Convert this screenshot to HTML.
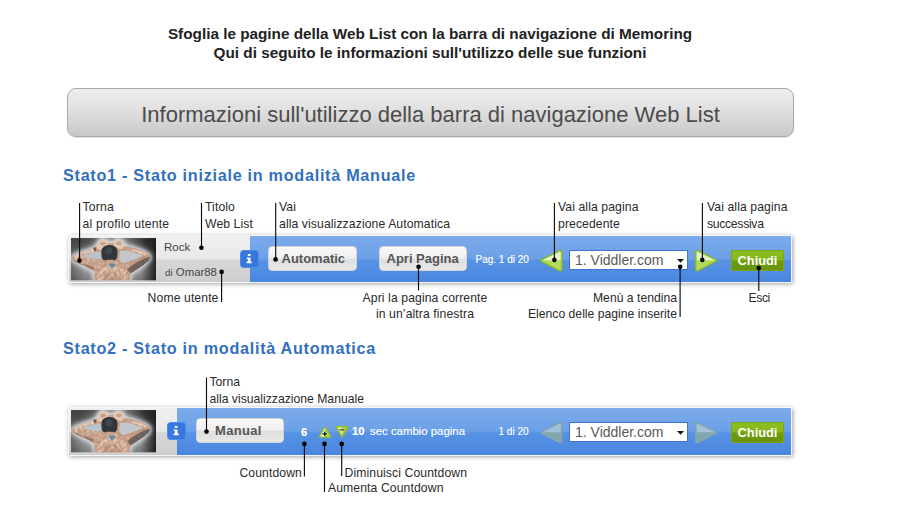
<!DOCTYPE html>
<html>
<head>
<meta charset="utf-8">
<style>
html,body{margin:0;padding:0;background:#fff;}
body{width:899px;height:516px;position:relative;overflow:hidden;font-family:"Liberation Sans",sans-serif;}
.abs{position:absolute;white-space:nowrap;}
.title{left:0;width:860px;text-align:center;font-weight:bold;font-size:15.3px;color:#222;line-height:19px;}
.hdr{left:67px;top:88px;width:725px;height:47px;border:1px solid #a9a9a9;border-radius:9px;
 background:linear-gradient(#eeeeee,#e2e2e2 40%,#c8c8c8);text-align:center;line-height:51px;font-size:22px;color:#4c4c4c;box-shadow:0 1px 1px rgba(0,0,0,.12);}
.h2{left:63px;font-weight:bold;font-size:16.2px;color:#3270bd;letter-spacing:0.72px;}
.lbl{font-size:12.2px;color:#2a2a2a;line-height:16.5px;letter-spacing:.1px;}
.c{text-align:center;}
.r{text-align:right;}
.bar{position:absolute;height:46px;box-shadow:0 0 0 1px rgba(246,248,252,.96),0.5px 0.5px 5px 1px rgba(0,0,0,.45);background:#ddd;}
.gray{position:absolute;left:0;top:0;bottom:0;background:linear-gradient(#f0f0f0,#e8e8e8 50%,#d7d7d7 52%,#cecece);}
.blue{position:absolute;top:0;bottom:0;right:0;background:linear-gradient(#7babeb,#6ca0e7 49%,#5792e4 53%,#4a86e0);}
.btn{position:absolute;height:25px;border-radius:4px;border:1px solid #d4d4d4;background:linear-gradient(#f8f8f8,#f0f0f0 48%,#dfdfdf 54%,#e7e7e7);
 font-weight:bold;font-size:13px;color:#555;line-height:24px;text-align:left;box-sizing:border-box;}
.info{position:absolute;width:19px;height:17.5px;border-radius:3.5px;background:#3878de;border:1px solid #4f8be8;box-sizing:border-box;}
.sel{position:absolute;height:20px;background:#fff;border:1px solid #3f73d2;box-sizing:border-box;font-size:14px;color:#5a5a5a;line-height:19px;padding-left:5px;}
.chiudi{position:absolute;width:53px;height:21px;background:linear-gradient(#8cbd22,#86b81a 47%,#6d9a0e 52%,#69940a);border:1px solid #7ea520;box-sizing:border-box;
 color:#fff;font-weight:bold;font-size:12.8px;line-height:19.5px;text-align:center;letter-spacing:0;}
.wt{position:absolute;color:#f4f8ff;font-size:10px;white-space:nowrap;text-shadow:0 0 .6px rgba(255,255,255,.7);}
svg{position:absolute;overflow:visible;}
</style>
</head>
<body>
<div class="abs title" style="top:24px;">Sfoglia le pagine della Web List con la barra di navigazione di Memoring</div>
<div class="abs title" style="top:43px;">Qui di seguito le informazioni sull'utilizzo delle sue funzioni</div>

<div class="abs hdr">Informazioni sull'utilizzo della barra di navigazione Web List</div>

<div class="abs h2" style="top:166px;">Stato1 - Stato iniziale in modalità Manuale</div>
<div class="abs h2" style="top:339px;">Stato2 - Stato in modalità Automatica</div>

<svg width="0" height="0">
 <defs>
  <radialGradient id="pg" cx="48%" cy="55%" r="62%"><stop offset="0" stop-color="#b8bcc0"/><stop offset=".6" stop-color="#969798"/><stop offset="1" stop-color="#6a6a6a"/></radialGradient>
  <linearGradient id="pg2" x1="0" x2="1" y1="0" y2="0"><stop offset="0" stop-color="#333" stop-opacity=".3"/><stop offset=".15" stop-color="#333" stop-opacity="0"/><stop offset=".82" stop-color="#222" stop-opacity="0"/><stop offset=".96" stop-color="#1a1a1a" stop-opacity=".7"/><stop offset="1" stop-color="#111" stop-opacity=".85"/></linearGradient>
  <radialGradient id="pg3" gradientUnits="userSpaceOnUse" cx="10" cy="2" r="26"><stop offset="0" stop-color="#3c3c3c" stop-opacity=".85"/><stop offset="1" stop-color="#3c3c3c" stop-opacity="0"/></radialGradient>
  <radialGradient id="pg4" gradientUnits="userSpaceOnUse" cx="76" cy="3" r="22"><stop offset="0" stop-color="#2c2c2c" stop-opacity=".9"/><stop offset="1" stop-color="#2c2c2c" stop-opacity="0"/></radialGradient>
  <filter id="bl" x="-10%" y="-10%" width="120%" height="120%"><feGaussianBlur stdDeviation="0.55"/></filter>
  <filter id="bl2" x="-20%" y="-20%" width="140%" height="140%"><feGaussianBlur stdDeviation="2"/></filter>
  <filter id="nz" x="0" y="0" width="100%" height="100%"><feTurbulence type="fractalNoise" baseFrequency="0.28 0.32" numOctaves="3" seed="7" result="t"/><feColorMatrix in="t" type="matrix" values="0 0 0 0 0.42  0 0 0 0 0.25  0 0 0 0 0.18  2.6 0 0 0 -1.05" result="c"/><feComposite in="c" in2="SourceGraphic" operator="in"/></filter>
  <filter id="nz2" x="0" y="0" width="100%" height="100%"><feTurbulence type="fractalNoise" baseFrequency="0.3 0.3" numOctaves="2" seed="11" result="t"/><feColorMatrix in="t" type="matrix" values="0 0 0 0 1  0 0 0 0 0.9  0 0 0 0 0.82  0 2.4 0 0 -1.0" result="c"/><feComposite in="c" in2="SourceGraphic" operator="in"/></filter>
  <clipPath id="pc"><rect width="85" height="42"/></clipPath>
  <g id="photo">
   <g clip-path="url(#pc)">
    <rect width="85" height="42" fill="url(#pg)"/>
    <rect width="85" height="42" fill="url(#pg3)"/><rect width="85" height="42" fill="url(#pg4)"/><rect width="85" height="42" fill="url(#pg2)"/>
    <path d="M0.5 20 L4 16.5 L14 13 L22 10.5 L26 8 L28 3 L31 0.8 L35 1.5 L37 5 L42 5 L43 4 L46 1 L50 1.5 L52 4 L53 8 L60 9 L70 12 L77 15.5 L79 18 L78 22 L72 27 L64 32 L59.5 35 L58.5 42 L24 42 L22.5 32 L14 28 L6 24.5 L1.5 22 Z" fill="#dfe6ee" stroke="#dfe6ee" stroke-width="3.5" stroke-linejoin="round" filter="url(#bl2)"/>
    <g filter="url(#bl)">
     <path d="M0.5 20 L4 16.5 L14 13 L22 10.5 L26 8 L28 3 L31 0.8 L35 1.5 L37 5 L42 5 L43 4 L46 1 L50 1.5 L52 4 L53 8 L60 9 L70 12 L77 15.5 L79 18 L78 22 L72 27 L64 32 L59.5 35 L58.5 42 L24 42 L22.5 32 L14 28 L6 24.5 L1.5 22 Z" fill="#c89f86"/>
     <path d="M25.5 8.5 L27 4 L29.5 1.2 L32 0.6 L34 2 L36.5 1.6 L37.4 5 L36.4 8.6 L31 11.4 L27 11.6Z M42.4 4.6 L44.6 1.4 L47.4 0.6 L49.6 2 L51.6 2.4 L52.6 5.4 L53.4 8.4 L50 11 L45 9.4 L42.6 7.4Z" fill="#e2c8b6"/>
     <path d="M28.4 5 L33 3.4 L35.4 5.6 L31 8Z M44.6 4.6 L49 3.2 L51 6 L46.6 7.4Z" fill="#c4a08a"/>
     <path d="M4 17 L14 13.4 L22 11 L24 13 L12 16.6 L5 19.5Z M56 10 L70 13 L76 16 L74 17.5 L60 12.5Z" fill="#e6cbb6"/>
     <path d="M27 21.5 L34 25 L45 25 L52 25.5 L59.5 35 L58.5 42 L24 42 L22.5 32 Z" fill="#c49a80"/>
     <path d="M30 30 L40 27 L52 30 L55 42 L27 42Z" fill="#d9b8a0" opacity=".7"/>
     <path d="M33 36 L38 33 L50 35 L50 42 L31 42Z" fill="#a97862" opacity=".55"/>
     <path d="M59.5 35 L64 32 L72 27 L78 22 L79 18.5 L74 20 L66 24 L60 28 L56 31Z" fill="#6f625c"/>
     <path d="M1.5 22 L6 24.5 L14 28 L22.5 32 L23 29 L14 25.5 L6 22.5Z" fill="#9a7866"/>
     <path d="M34 21 L44 21 L45 26 L33 26Z" fill="#cfa890"/>
     <path d="M22.5 22 L58 22 L59.5 35 L58.5 42 L24 42 L22.5 32Z M0.5 20 L22 10.5 L24 22 L14 28Z M53 8 L79 18 L64 32 L52 24Z" fill="#fff" filter="url(#nz)" opacity=".75"/>
     <path d="M22.5 22 L58 22 L59.5 35 L58.5 42 L24 42 L22.5 32Z M0.5 20 L22 10.5 L24 22 L14 28Z" fill="#fff" filter="url(#nz2)" opacity=".55"/>
     <path d="M12 17.5 L26 13.2 L30 14 L31 20 L27 21.2 L13 18.6Z" fill="#b9c3cd"/>
     <path d="M49 13 L56 12.2 L72 17.6 L63 21.5 L52 25 L48 21Z" fill="#c2c7cc"/>
     <path d="M59.5 35 L64 32 L72 27 L78 22 L79 18.5 L74 20 L66 24 L60 28 L56 31Z" fill="#6f625c" opacity=".8"/>
     <path d="M30.4 14 Q30.2 7.4 38.5 7 Q46.8 7.4 46.6 14 L46 19.5 Q44.5 22.4 42.5 22.2 L43 24.5 L35 24.5 L35.2 22.2 Q32 22.4 30.8 19.5Z" fill="#30363a"/>
     <path d="M35.4 21.6 L42.6 21.6 L43.6 25.4 L34.4 25.4Z" fill="#c8a28a"/>
     <ellipse cx="37.8" cy="12.8" rx="3.4" ry="3.6" fill="#3d494f"/>
     <path d="M37.6 25.6 L39.6 24.8 L41 25.6 L42.6 24.8 L44.2 26 L43 28.4 L41 29.8 L39 28.4Z" fill="#5f879f" opacity=".9"/>
     <path d="M22 10 L24.5 9 L25.5 12.5 L23.4 13.4Z" fill="#7a5c4c"/>
    </g>
   </g>
  </g>
  <g id="larr">
   <path d="M2.2 11.7 L20.6 2.2 Q22.2 1.6 22.2 3.4 L22.2 20 Q22.2 21.8 20.6 21.2 Z" fill="#b4db58" stroke="#80b02c" stroke-width="2.6" stroke-linejoin="round"/>
   <path d="M2.2 11.7 L20.6 2.2 Q22.2 1.6 22.2 3.4 L22.2 20 Q22.2 21.8 20.6 21.2 Z" fill="#b4db58" stroke="#9ccb3c" stroke-width="1" stroke-linejoin="round"/>
   <path d="M3.6 11.2 L20.4 2.9 Q21.6 2.5 21.6 3.6 L21.6 11.2 Z" fill="#e8f3cc"/>
  </g>
  <g id="larrd">
   <path d="M2.2 11.7 L20.6 2.2 Q22.2 1.6 22.2 3.4 L22.2 20 Q22.2 21.8 20.6 21.2 Z" fill="#85a9a6" stroke="#7c9fae" stroke-width="2.4" stroke-linejoin="round"/>
   <path d="M2.2 11.7 L20.6 2.2 Q22.2 1.6 22.2 3.4 L22.2 20 Q22.2 21.8 20.6 21.2 Z" fill="#85a9a6" stroke="#8cafb0" stroke-width="1" stroke-linejoin="round"/>
   <path d="M3.6 11.2 L20.4 2.9 Q21.6 2.5 21.6 3.6 L21.6 11.2 Z" fill="#a9c5d6"/>
  </g>
  <g id="info">
   <rect x="7.8" y="4" width="2.7" height="1.9" fill="#fff"/>
   <path d="M6.8 7.4 H10.5 V11.5 H11.7 V13.2 H6.6 V11.5 H7.9 V8.9 H6.8Z" fill="#fff"/>
  </g>
 </defs>
</svg>

<!-- BAR 1 -->
<div class="bar" id="bar1" style="left:69px;top:236px;width:722px;">
  <div class="gray" style="width:181px;"></div>
  <div class="blue" style="left:181px;"></div>
  <svg style="left:2px;top:2px;" width="85" height="42.5" viewBox="0 0 85 42" preserveAspectRatio="none"><use href="#photo"/></svg>
  <div class="abs" style="left:95px;top:5.2px;font-size:11.5px;color:#444;">Rock</div>
  <div class="abs" style="left:96px;top:29.5px;font-size:11.4px;color:#444;"><span style="font-size:9.8px">di</span> Omar88</div>
  <div class="info" style="left:171px;top:14px;"><svg width="19" height="17" style="left:-1px;top:-1px"><use href="#info"/></svg></div>
  <div class="btn" style="left:199px;top:10px;width:89px;padding-left:12.5px">Automatic</div>
  <div class="btn" style="left:310px;top:10px;width:88px;padding-left:6.5px">Apri Pagina</div>
  <div class="wt" style="left:406.5px;top:17.5px;">Pag. 1 di 20</div>
  <svg style="left:470px;top:13px;" width="25" height="24"><use href="#larr"/></svg>
  <div class="sel" style="left:500px;top:14px;width:119px;">1. Viddler.com</div>
  <svg style="left:607.6px;top:23px;" width="8" height="4"><path d="M0 0 H7 L3.5 3.8Z" fill="#111"/></svg>
  <svg style="left:625px;top:13px;" width="25" height="24"><g transform="translate(24.4,0) scale(-1,1)"><use href="#larr"/></g></svg>
  <div class="chiudi" style="left:662px;top:14px;">Chiudi</div>
</div>

<!-- BAR 2 -->
<div class="bar" id="bar2" style="left:69px;top:408px;width:722px;height:46.7px">
  <div class="gray" style="width:108px;"></div>
  <div class="blue" style="left:108px;"></div>
  <svg style="left:2px;top:2px;" width="85" height="42.5" viewBox="0 0 85 42" preserveAspectRatio="none"><use href="#photo"/></svg>
  <div class="info" style="left:98px;top:14px;"><svg width="19" height="17" style="left:-1px;top:-1px"><use href="#info"/></svg></div>
  <div class="btn" style="left:127px;top:10px;width:88px;padding-left:18px;letter-spacing:.3px">Manual</div>
  <div class="wt" style="left:232px;top:17.6px;font-weight:bold;font-size:11.2px;color:#fff">6</div>
  <svg style="left:249.3px;top:17px;" width="15" height="14"><path d="M7 2 L12.8 12 H1.2Z" fill="#c2e264" stroke="#90be2e" stroke-width="1.5" stroke-linejoin="round"/><path d="M7 3 L7 11.6 H2.2Z" fill="#edf8d2"/><path d="M4.4 8.8H9M6.7 6.5V11.1" stroke="#111" stroke-width="1.15" fill="none"/></svg>
  <svg style="left:265.6px;top:17px;" width="15" height="14"><path d="M1.2 1.8 H12.8 L7 12Z" fill="#b6dc4e" stroke="#90be2e" stroke-width="1.5" stroke-linejoin="round"/><path d="M2.6 2.6 H7 V10.4Z" fill="#dcf0a4"/><path d="M4.6 4.8H9.4" stroke="#5a5a4a" stroke-width="1.5" fill="none"/></svg>
  <div class="wt" style="left:283px;top:17px;font-size:11.4px"><b style="font-size:11.2px;color:#fff">10</b><span style="font-size:10px">&nbsp; </span>sec cambio pagina</div>
  <div class="wt" style="left:429.5px;top:17.5px;">1 di 20</div>
  <svg style="left:470px;top:13px;opacity:.92" width="25" height="24"><use href="#larrd"/></svg>
  <div class="sel" style="left:500px;top:14px;width:119px;">1. Viddler.com</div>
  <svg style="left:607.6px;top:23px;" width="8" height="4"><path d="M0 0 H7 L3.5 3.8Z" fill="#111"/></svg>
  <svg style="left:625px;top:13px;opacity:.92" width="25" height="24"><g transform="translate(24.4,0) scale(-1,1)"><use href="#larrd"/></g></svg>
  <div class="chiudi" style="left:662px;top:14px;">Chiudi</div>
</div>

<!-- LABELS state 1 -->
<div class="abs lbl" style="left:82.5px;top:199px;letter-spacing:.2px">Torna<br>al profilo utente</div>
<div class="abs lbl" style="left:205px;top:199px;">Titolo<br>Web List</div>
<div class="abs lbl" style="left:279px;top:199px;">Vai<br>alla visualizzazione Automatica</div>
<div class="abs lbl" style="left:558px;top:199px;">Vai alla pagina<br>precedente</div>
<div class="abs lbl" style="left:707px;top:199px;">Vai alla pagina<br><span style="letter-spacing:-.3px">successiva</span></div>
<div class="abs lbl r" style="right:680.5px;top:290px;">Nome utente</div>
<div class="abs lbl c" style="left:325px;width:200px;top:290px;line-height:16px">Apri la pagina corrente<br>in un’altra finestra</div>
<div class="abs lbl r" style="right:222px;top:290px;letter-spacing:0;line-height:16px">Menù a tendina<br>Elenco delle pagine inserite</div>
<div class="abs lbl" style="left:748.5px;top:290px;letter-spacing:-.4px">Esci</div>

<!-- LABELS state 2 -->
<div class="abs lbl" style="left:209.5px;top:374px;letter-spacing:0">Torna<br>alla visualizzazione Manuale</div>
<div class="abs lbl r" style="right:597px;top:465px;">Countdown</div>
<div class="abs lbl" style="left:344.5px;top:465px;">Diminuisci Countdown</div>
<div class="abs lbl" style="left:328px;top:480.2px;">Aumenta Countdown</div>

<!-- LINES + DOTS -->
<svg id="lines" style="left:0;top:0" width="899" height="516" stroke="#0a0a0a" stroke-width="1.12" fill="#000">
 <path d="M79.6 203V260 M201.5 203V248 M275.7 203V259 M554.4 203V260 M702.4 203V260
          M221.6 272V302 M418.5 267V290.5 M680.1 267V317 M758.8 268V291
          M206.5 377.5V431.5 M304.4 444V476.5 M324.5 444V492 M341.7 444V476" fill="none"/>
 <g stroke="none">
  <circle cx="79.5" cy="260.5" r="2.3"/><circle cx="201.4" cy="247.8" r="2.3"/><circle cx="275.6" cy="259.4" r="2.3"/>
  <circle cx="554.4" cy="259.9" r="2.3"/><circle cx="702.3" cy="259.9" r="2.3"/>
  <circle cx="221.6" cy="271.9" r="2.3"/><circle cx="418.6" cy="266.8" r="2.3"/><circle cx="680.2" cy="266.8" r="2.3"/><circle cx="758.8" cy="268" r="2.3"/>
  <circle cx="206.5" cy="431.6" r="2.3"/><circle cx="304.4" cy="443.9" r="2.3"/><circle cx="324.5" cy="443.9" r="2.3"/><circle cx="341.7" cy="443.9" r="2.3"/>
 </g>
</svg>
</body>
</html>
